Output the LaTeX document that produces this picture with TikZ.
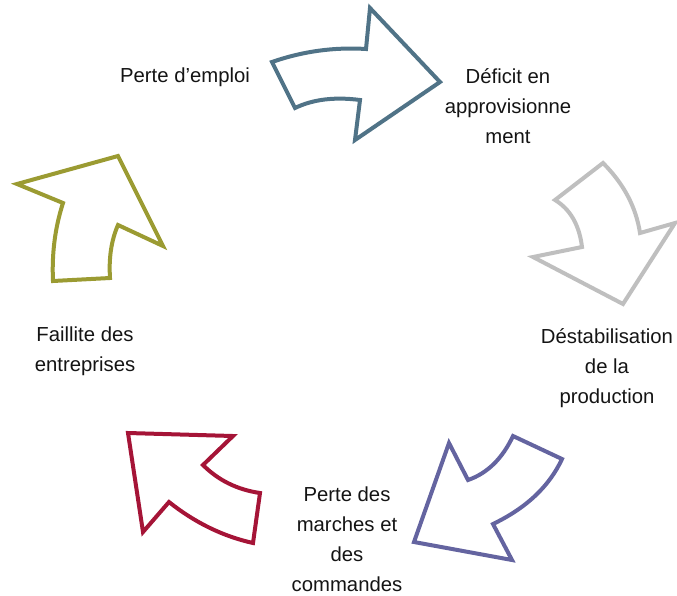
\documentclass[tikz,border=0pt]{standalone}
\usepackage{fontspec}
\setmainfont{Liberation Sans}
\definecolor{cycblue}{RGB}{80,115,135}
\definecolor{cycgray}{RGB}{191,191,191}
\definecolor{cycpurple}{RGB}{100,100,160}
\definecolor{cycred}{RGB}{165,20,55}
\definecolor{cycolive}{RGB}{155,155,50}
\definecolor{cyctext}{RGB}{20,20,20}
\tikzset{
  cycarrow/.style={line width=4pt, fill=white, line join=miter},
  cyclabel/.style={align=center, inner sep=0pt, text=cyctext,
    font=\fontsize{20.3}{30}\selectfont}
}
\begin{document}
\begin{tikzpicture}[x=1pt,y=-1pt]
\useasboundingbox (0,0) rectangle (677,595);

% cycle labels
\node[cyclabel] (emploi) at (185,77.5) {Perte d’emploi};
\node[cyclabel] (deficit) at (508,106) {Déficit en\\approvisionne\\ment};
\node[cyclabel] (destab) at (607,368) {Déstabilisation\\de la\\production};
\node[cyclabel] (marches) at (347,539) {Perte des\\marches et\\des\\commandes};
\node[cyclabel] (faillite) at (85,351) {Faillite des\\entreprises};

% curved block arrows between the stages
\draw[cycarrow, draw=cycblue]
  (272,62) .. controls (302.7,51.3) and (334,47) .. (366,49) -- (370,8) -- (440,82)
  -- (355,140) -- (360,100) .. controls (334.7,96.7) and (313,99.3) .. (295,108) -- cycle;

\draw[cycarrow, draw=cycgray]
  (603,163) -- (555,200) .. controls (570.3,209.3) and (579.3,225) .. (582,247) -- (533,257)
  -- (623,304) -- (675,223) -- (640,233) .. controls (636,207) and (623.7,183.7) .. cycle;

\draw[cycarrow, draw=cycpurple]
  (513,436) -- (562,459) .. controls (549.3,486.3) and (526.3,508) .. (493,524) -- (512,560)
  -- (414,542) -- (449,443) -- (468,480) .. controls (487.3,473.3) and (502.3,458.7) .. cycle;

\draw[cycarrow, draw=cycred]
  (128,433) -- (233,436) -- (203,465) .. controls (218.3,480.3) and (237.3,489.7) .. (260,493)
  -- (253,543) .. controls (223,536.3) and (195,522.7) .. (169,502) -- (143,532) -- cycle;

\draw[cycarrow, draw=cycolive]
  (118,156) -- (163,246) -- (118,225) .. controls (111.3,240.3) and (108.7,258) .. (110,278)
  -- (53,281) .. controls (51.7,253.7) and (55,227.7) .. (63,203) -- (17,184) -- cycle;
\end{tikzpicture}
\end{document}
